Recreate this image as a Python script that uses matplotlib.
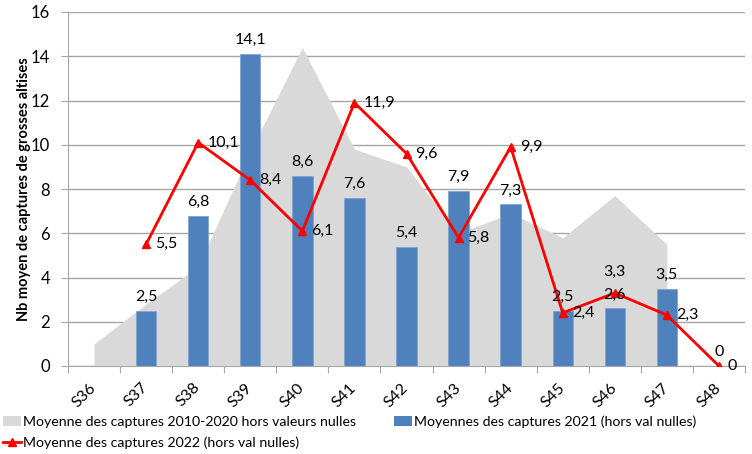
import matplotlib
matplotlib.use("Agg")
import matplotlib.pyplot as plt
import numpy as np
from matplotlib.patches import Patch
from matplotlib.lines import Line2D

plt.rcParams['font.family'] = ['Lato', 'DejaVu Sans']

weeks = ["S36", "S37", "S38", "S39", "S40", "S41", "S42", "S43", "S44", "S45", "S46", "S47", "S48"]
avg_2010_2020 = [1.0, 2.8, 4.5, 9.7, 14.4, 9.8, 9.0, 6.0, 6.9, 5.8, 7.7, 5.5, np.nan]
captures_2021 = [np.nan, 2.5, 6.8, 14.1, 8.6, 7.6, 5.4, 7.9, 7.3, 2.5, 2.6, 3.5, 0]
captures_2022 = [np.nan, 5.5, 10.1, 8.4, 6.1, 11.9, 9.6, 5.8, 9.9, 2.4, 3.3, 2.3, 0]
y_label = "Nb moyen de captures de grosses altises"
legend_labels = ["Moyenne des captures 2010-2020 hors valeurs nulles",
                 "Moyennes des captures 2021 (hors val nulles)",
                 "Moyenne des captures 2022 (hors val nulles)"]

def fmt(v):
    s = f"{v:.1f}".replace(".", ",")
    if s.endswith(",0"):
        s = s[:-2]
    return s

x = np.arange(len(weeks))
a = np.array(avg_2010_2020, dtype=float)
b = np.array(captures_2021, dtype=float)
c = np.array(captures_2022, dtype=float)

fig = plt.figure(figsize=(7.52, 4.54), dpi=100)
ax = fig.add_axes([68/752, 1-366/454, (745-68)/752, (366-12)/454])

gray = "#D9D9D9"
blue = "#4F81BD"
red = "#FF0000"
grid = "#A6A6A6"

ma = ~np.isnan(a)
ax.fill_between(x[ma], 0, a[ma], color=gray, linewidth=0, zorder=1)

mb = ~np.isnan(b)
ax.bar(x[mb], b[mb], width=0.39, color=blue, edgecolor="#7FA3D0", linewidth=0.6, zorder=2)

mc = ~np.isnan(c)
ax.plot(x[mc], c[mc], color=red, linewidth=2, marker="^", markersize=6, zorder=3)

ax.set_xlim(-0.5, len(weeks) - 0.5)
ax.set_ylim(0, 16)
ax.set_yticks(np.arange(0, 17, 2))
ax.yaxis.grid(True, color=grid, linewidth=1)
ax.set_axisbelow(True)
for s in ["top", "right"]:
    ax.spines[s].set_visible(False)
ax.spines["left"].set_color(grid)
ax.spines["bottom"].set_color(grid)
ax.tick_params(axis="y", length=5, color=grid, labelsize=12, pad=8)

ax.set_xticks(np.arange(-0.5, len(weeks), 1.0))
ax.set_xticklabels([])
ax.tick_params(axis="x", length=5, color=grid)
ax.set_xticks(x, minor=True)
ax.set_xticklabels(weeks, minor=True, rotation=45, ha="right", va="center",
                   rotation_mode="anchor", fontsize=11.5)
ax.tick_params(axis="x", which="minor", length=0, pad=14)

ax.set_ylabel(y_label, fontsize=10.5, fontweight="bold", labelpad=0)

# bar labels
for xi, v in zip(x[mb], b[mb]):
    ax.annotate(fmt(v), (xi, v), xytext=(0, 10), textcoords="offset points",
                ha="center", va="center", fontsize=11.5, annotation_clip=False)
# line labels
for xi, v in zip(x[mc], c[mc]):
    if weeks[xi] == "S46":
        ax.annotate(fmt(v), (xi, v), xytext=(0, 15), textcoords="offset points",
                    ha="center", va="center", fontsize=11.5, annotation_clip=False)
    else:
        ax.annotate(fmt(v), (xi, v), xytext=(6.5, 0), textcoords="offset points",
                    ha="left", va="center", fontsize=11.5, annotation_clip=False)

handles = [Patch(facecolor=gray, edgecolor="none"),
           Line2D([0], [0], color=red, linewidth=2, marker="^", markersize=6),
           Patch(facecolor=blue, edgecolor="none")]
labels = [legend_labels[0], legend_labels[2], legend_labels[1]]
fig.legend(handles, labels, loc="upper left", bbox_to_anchor=(0.0, 1-413/454),
           ncol=2, frameon=False, fontsize=10.2, handlelength=1.3, handletextpad=0.1,
           columnspacing=2.7, labelspacing=0.55, borderaxespad=0, borderpad=0.2)

fig.savefig("out.png", dpi=100)
